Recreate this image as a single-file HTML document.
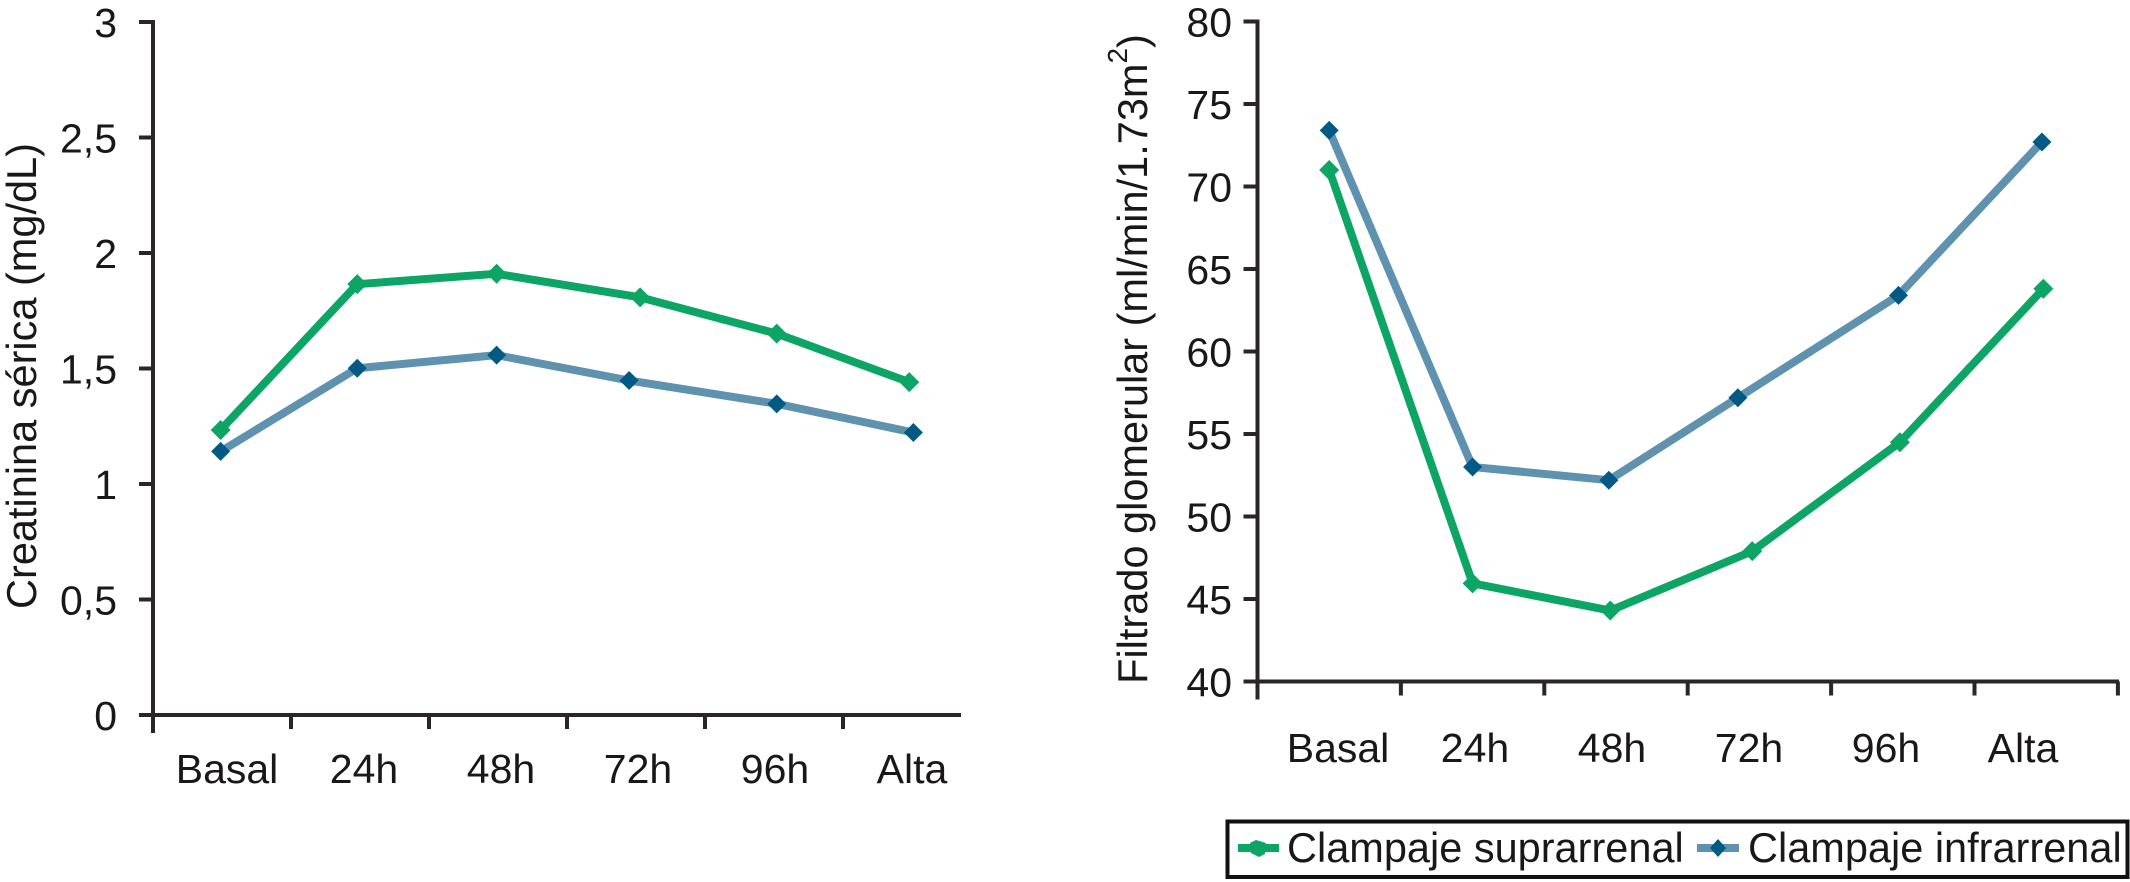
<!DOCTYPE html>
<html lang="es">
<head>
<meta charset="utf-8">
<title>Creatinina sérica y filtrado glomerular</title>
<style>
html,body{margin:0;padding:0;background:#fff;width:2130px;height:882px;overflow:hidden}
svg{display:block}
text{font-family:"Liberation Sans",Arial,sans-serif;fill:#1a1718}
</style>
</head>
<body>
<svg id="figure" xmlns="http://www.w3.org/2000/svg" width="2130" height="882" viewBox="0 0 2130 882">
  <g id="left-chart">
    <text transform="translate(36 376) rotate(-90)" text-anchor="middle" font-size="41.5">Creatinina sérica (mg/dL)</text>
  </g>
  <g id="right-chart">
    <text transform="translate(1147 359) rotate(-90)" text-anchor="middle" font-size="41.5">Filtrado glomerular (ml/min/1.73m<tspan dy="-20" font-size="28">2</tspan><tspan dy="20">)</tspan></text>
  </g>
  <g>
    <rect x="1227.5" y="821.5" width="900" height="55.5" fill="#fff" stroke="#111" stroke-width="4"/>
    <g>
      <line x1="1238" y1="848" x2="1279" y2="848" stroke="#0ca565" stroke-width="8"/>
      <polygon points="1256,840 1266,843 1265,854 1259,857 1251,853 1250,843" fill="#0ca565"/>
      <text x="1287" y="862" font-size="41.5">Clampaje suprarrenal</text>
    </g>
    <g>
      <line x1="1697" y1="848" x2="1739" y2="848" stroke="#5f92ae" stroke-width="8"/>
      <polygon points="1718,839 1726,848 1718,857 1710,848" fill="#005a84"/>
      <text x="1748" y="862" font-size="41.5">Clampaje infrarrenal</text>
    </g>
  </g>
</svg>
<script>
// Data
const categories = ['Basal', '24h', '48h', '72h', '96h', 'Alta'];
const creatinineTicks = ['0', '0,5', '1', '1,5', '2', '2,5', '3'];
const creatinineTickValues = [0, 0.5, 1, 1.5, 2, 2.5, 3];
const filtrationTicks = ['40', '45', '50', '55', '60', '65', '70', '75', '80'];
const filtrationTickValues = [40, 45, 50, 55, 60, 65, 70, 75, 80];

const creatinineSupra = [1.234, 1.865, 1.91, 1.808, 1.651, 1.441];
const creatinineInfra = [1.141, 1.501, 1.558, 1.448, 1.347, 1.223];
const filtrationSupra = [71.0, 45.95, 44.3, 47.9, 54.5, 63.8];
const filtrationInfra = [73.4, 53.0, 52.2, 57.2, 63.4, 72.7];

// Position of each point along the category axis, in category units
const creatinineSupraSlots = [0.49, 1.48, 2.49, 3.53, 4.52, 5.48];
const creatinineInfraSlots = [0.49, 1.48, 2.49, 3.45, 4.52, 5.51];
const filtrationSupraSlots = [0.50, 1.50, 2.46, 3.45, 4.48, 5.48];
const filtrationInfraSlots = [0.50, 1.50, 2.45, 3.35, 4.47, 5.47];

const SVG_NS = 'http://www.w3.org/2000/svg';
const GREEN = '#0ca565';
const BLUE_LINE = '#5f92ae';
const BLUE_MARK = '#005a84';
const AXIS = '#2a2628';

function make(parent, tag, attrs) {
  const el = document.createElementNS(SVG_NS, tag);
  Object.keys(attrs).forEach(function (k) { el.setAttribute(k, attrs[k]); });
  parent.appendChild(el);
  return el;
}

function drawPanel(cfg) {
  const root = document.getElementById(cfg.id);
  const xScale = function (slot) { return cfg.x0 + slot * cfg.step; };
  const yScale = function (v) {
    return cfg.yBottom - (v - cfg.vMin) / (cfg.vMax - cfg.vMin) * (cfg.yBottom - cfg.yTop);
  };

  const yAxis = make(root, 'line', {x1: cfg.x0, y1: cfg.yTop - 2, x2: cfg.x0, y2: cfg.yBottom + 18, stroke: AXIS, 'stroke-width': 4});
  
  

  const xAxis = make(root, 'line', {x1: cfg.x0 - 14, y1: cfg.yBottom, x2: cfg.xEnd, y2: cfg.yBottom, stroke: AXIS, 'stroke-width': 4});
  
  

  cfg.tickValues.forEach(function (v, i) {
    const y = yScale(v);
    const tick = make(root, 'line', {x1: cfg.x0 - 14, y1: y, x2: cfg.x0, y2: y, stroke: AXIS, 'stroke-width': 4});
    
    
    const label = make(root, 'text', {x: cfg.yLabelRight, y: y + 15, 'text-anchor': 'end', 'font-size': cfg.tickFont});
    label.textContent = cfg.tickLabels[i];
    
    
  });

  for (let s = 1; s <= cfg.xTickCount; s++) {
    const x = xScale(s);
    const tick = make(root, 'line', {x1: x, y1: cfg.yBottom, x2: x, y2: cfg.yBottom + 14, stroke: AXIS, 'stroke-width': 4});
    
    
  }

  categories.forEach(function (c, i) {
    const label = make(root, 'text', {x: cfg.labelStart + i * cfg.labelStep, y: cfg.labelY, 'text-anchor': 'middle', 'font-size': 41});
    label.textContent = c;
    
    
  });

  cfg.series.forEach(function (s) {
    const pts = s.values.map(function (v, i) { return xScale(s.slots[i]) + ',' + yScale(v); }).join(' ');
    const line = make(root, 'polyline', {points: pts, fill: 'none', stroke: s.lineColor, 'stroke-width': 8, 'stroke-linejoin': 'round'});
    
    
    s.values.forEach(function (v, i) {
      const cx = xScale(s.slots[i]);
      const cy = yScale(v);
      const r = s.markerRadius;
      const mark = make(root, 'polygon', {
        points: cx + ',' + (cy - r) + ' ' + (cx + r) + ',' + cy + ' ' + cx + ',' + (cy + r) + ' ' + (cx - r) + ',' + cy,
        fill: s.markColor
      });
      
      
    });
  });
}

drawPanel({
  id: 'left-chart', prefix: 'creatinine',
  x0: 153, step: 138, xEnd: 961, xTickCount: 5,
  yTop: 22, yBottom: 715, vMin: 0, vMax: 3,
  tickValues: creatinineTickValues, tickLabels: creatinineTicks, tickFont: 41, yLabelRight: 117,
  labelStart: 227, labelStep: 137, labelY: 783,
  series: [
    {key: 'suprarrenal', values: creatinineSupra, slots: creatinineSupraSlots, lineColor: GREEN, markColor: GREEN, markerRadius: 10},
    {key: 'infrarrenal', values: creatinineInfra, slots: creatinineInfraSlots, lineColor: BLUE_LINE, markColor: BLUE_MARK, markerRadius: 9.5}
  ]
});

drawPanel({
  id: 'right-chart', prefix: 'filtration',
  x0: 1257.5, step: 143.4, xEnd: 2119, xTickCount: 6,
  yTop: 21.5, yBottom: 681.5, vMin: 40, vMax: 80,
  tickValues: filtrationTickValues, tickLabels: filtrationTicks, tickFont: 41, yLabelRight: 1232,
  labelStart: 1338, labelStep: 137, labelY: 762,
  series: [
    {key: 'suprarrenal', values: filtrationSupra, slots: filtrationSupraSlots, lineColor: GREEN, markColor: GREEN, markerRadius: 10},
    {key: 'infrarrenal', values: filtrationInfra, slots: filtrationInfraSlots, lineColor: BLUE_LINE, markColor: BLUE_MARK, markerRadius: 9.5}
  ]
});
</script>
</body>
</html>
